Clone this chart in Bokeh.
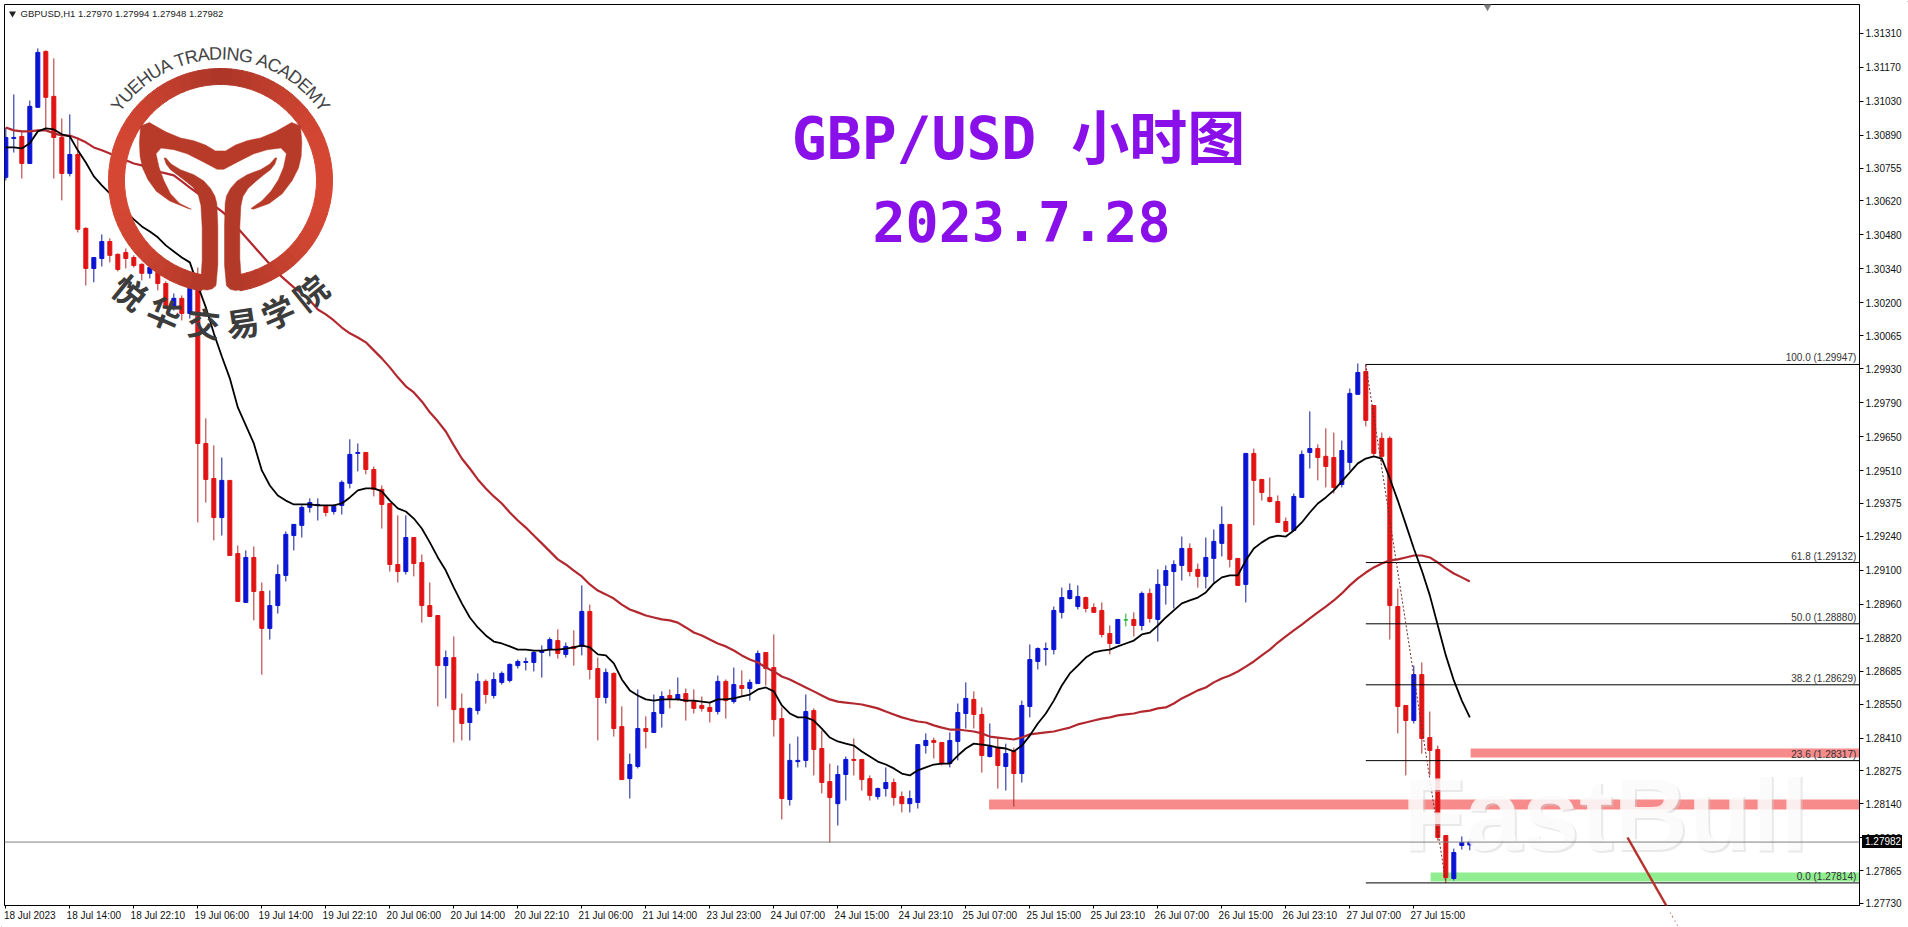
"""GBP/USD hourly chart, 2023.7.28, redrawn with bokeh"""
import numpy as np
from bokeh.core.properties import value
from bokeh.embed import file_html
from bokeh.layouts import column
from bokeh.models import Arrow, Div, FixedTicker, NormalHead, PrintfTickFormatter, Range1d, Span
from bokeh.plotting import figure
from bokeh.resources import INLINE

# candles, in points (1e-5)
opens = [130717,130877,130885,130774,131005,131235,131050,130881,130733,130811,130507,130342,130383,130453,130400,130408,130387,130359,130322,130326,130280,130178,130219,130157,130260,
129622,129478,129317,129470,129169,128968,129153,129013,128861,128955,129079,129243,129285,129359,129367,129363,129342,129367,129458,129581,129585,129515,129433,129375,129124,129095,129235,129132,128955,128914,128708,128741,128532,128474,128523,128643,128585,
128639,128647,128708,128721,128721,128762,128774,128811,128754,128787,128787,128931,128696,128577,128676,128457,128243,128293,128449,128433,128511,128585,128569,128593,128560,128544,128536,128519,128643,128560,128626,128614,128634,128762,128700,128490,128157,128313,128318,128523,128367,128231,128140,128260,128322,128322,128243,128169,128202,128227,128169,128140,128145,
128379,128400,128392,128305,128396,128511,128569,128507,128334,128371,128293,128355,128264,128540,128725,128774,128774,128927,128984,128951,128988,128947,128935,128840,128799,128896,128898,128873,129005,128898,129038,129095,129120,129190,129104,129075,129149,129211,129289,129149,129042,129581,129474,129400,129383,129301,129264,129400,
129585,129601,129569,129564,129453,129544,129824,129918,129778,129643,129643,128951,128544,128482,128671,128412,128363,128009,127832,127968,127970]
highs = [130922,131058,130906,131033,131247,131239,131206,130959,130976,130881,130511,130387,130482,130466,130404,130424,130396,130363,130363,130346,130289,130239,130231,130305,130346,
129725,129614,129564,129470,129202,129182,129198,129050,129017,129124,129260,129289,129367,129396,129396,129367,129371,129470,129639,129622,129585,129527,129449,129375,129326,129326,129235,129165,129050,128914,128770,128828,128593,128536,128676,128651,128680,
128684,128717,128733,128741,128770,128791,128824,128857,128803,128853,129038,128959,128741,128696,128680,128540,128346,128610,128499,128589,128602,128610,128659,128614,128610,128581,128556,128667,128651,128700,128688,128651,128770,128762,128836,128536,128387,128416,128589,128532,128441,128305,128297,128334,128408,128322,128256,128206,128289,128243,128190,128194,128383,
128429,128412,128392,128433,128552,128639,128602,128536,128470,128412,128387,128371,128564,128795,128783,128803,128951,129029,129046,129038,128992,128964,128968,128873,128898,128922,128927,129013,129025,129104,129120,129141,129239,129211,129128,129235,129268,129363,129289,129149,129581,129601,129474,129482,129408,129317,129416,129593,
129754,129618,129684,129667,129634,129848,129951,129947,129778,129667,129651,129025,128544,128708,128721,128519,128379,128009,127955,128005,127994]
lows = [130704,130819,130712,130774,131003,130918,130712,130622,130721,130490,130272,130285,130350,130367,130330,130342,130346,130293,130301,130252,130178,130169,130128,130136,129297,
129379,129223,129243,129161,128972,128968,128894,128671,128815,128922,129054,129182,129235,129338,129305,129322,129330,129330,129437,129507,129495,129404,129272,129095,129050,129083,129075,128885,128910,128540,128573,128392,128400,128400,128507,128552,128573,
128630,128639,128696,128688,128684,128659,128746,128737,128741,128708,128750,128651,128400,128552,128416,128239,128161,128285,128367,128433,128453,128532,128564,128482,128511,128519,128474,128507,128490,128552,128581,128564,128634,128626,128416,128075,128132,128289,128289,128256,128182,127980,128050,128153,128256,128194,128153,128157,128169,128132,128104,128104,128120,
128346,128326,128297,128289,128318,128449,128449,128268,128330,128202,128194,128128,128227,128495,128692,128708,128754,128902,128980,128939,128927,128927,128824,128754,128799,128869,128828,128853,128885,128807,128959,128943,129058,129075,129029,129025,129050,129157,129112,129038,128968,129285,129387,129379,129297,129256,129264,129400,
129519,129470,129441,129416,129441,129511,129824,129692,129573,129544,128815,128429,128256,128470,128346,128256,127988,127814,127824,127951,127948]
closes = [130881,130881,130774,131009,131231,131046,130881,130733,130811,130503,130342,130387,130453,130396,130338,130383,130354,130322,130346,130280,130190,130219,130157,130260,129622,
129474,129317,129470,129161,128972,129153,129013,128861,128955,129083,129248,129289,129359,129379,129371,129338,129363,129462,129577,129585,129515,129433,129371,129124,129095,129235,129128,128955,128910,128708,128741,128527,128470,128532,128643,128589,128651,
128676,128713,128725,128725,128762,128770,128815,128758,128787,128778,128931,128692,128577,128680,128449,128239,128301,128449,128437,128515,128581,128573,128589,128560,128532,128532,128519,128643,128564,128630,128614,128639,128758,128696,128486,128161,128318,128318,128519,128363,128227,128165,128260,128322,128318,128239,128174,128202,128227,128165,128140,128161,128383,
128400,128392,128305,128400,128515,128573,128507,128338,128375,128297,128346,128264,128544,128733,128778,128778,128935,128988,129017,128992,128943,128927,128836,128799,128898,128896,128873,129005,128902,129042,129099,129124,129190,129095,129075,129153,129219,129289,129145,129038,129581,129470,129420,129383,129297,129260,129404,129577,
129601,129564,129527,129441,129593,129828,129914,129717,129581,129569,128955,128540,128482,128671,128408,128359,128001,127836,127939,127980,127982]

# moving averages, one value per bar
ma_fast = [130840,130840,130836,130857,130906,130918,130914,130894,130885,130828,130778,130721,130684,130651,130610,130577,130544,130515,130494,130470,130437,130412,130387,130367,130272,130182,130075,129980,129890,129770,129696,129622,129511,129449,129408,129387,129371,129371,129371,129367,129367,129367,129375,129400,129429,129437,129437,129425,129387,129355,129342,129313,129272,129215,129153,129099,129029,128964,128906,128865,128832,128807,
128799,128787,128774,128774,128770,128770,128774,128774,128778,128783,128791,128783,128754,128750,128717,128651,128606,128585,128569,128564,128569,128569,128569,128564,128564,128560,128556,128569,128569,128573,128581,128589,128610,128618,128602,128544,128511,128495,128495,128482,128449,128412,128396,128387,128379,128355,128334,128313,128301,128285,128264,128256,128277,128289,128301,128305,128305,128338,128367,128387,128383,128379,128371,
128367,128355,128379,128420,128470,128511,128564,128626,128676,128708,128741,128762,128770,128774,128787,128799,128811,128836,128844,128873,128906,128935,128964,128976,128988,129009,129046,129071,129079,129079,129141,129190,129215,129235,129243,129239,129264,129297,
129338,129375,129400,129429,129466,129503,129540,129560,129569,129560,129478,129387,129289,129190,129099,128997,128873,128750,128647,128564,128495]
ma_slow = [130922,130910,130906,130906,130910,130910,130898,130889,130889,130877,130861,130840,130828,130815,130799,130787,130774,130766,130754,130741,130733,130725,130700,130675,130651,130626,130601,130577,130548,130507,130470,130433,130396,130359,130322,130293,130264,130239,130211,130173,130153,130128,130099,130075,130058,130038,130005,129972,129935,129894,129857,129832,129795,129750,129713,129671,129614,129560,129519,129474,129437,129404,
129375,129338,129305,129276,129243,129211,129178,129145,129124,129099,129075,129042,129017,129001,128984,128959,128939,128927,128914,128906,128898,128894,128885,128865,128844,128832,128815,128799,128787,128770,128750,128733,128721,128700,128684,128663,128651,128634,128618,128602,128585,128569,128560,128556,128552,128548,128540,128532,128519,128507,128495,128486,128478,128474,128462,128453,128445,128445,128441,128437,128429,128416,128412,
128408,128404,128412,128425,128429,128433,128437,128445,128453,128466,128474,128482,128490,128495,128503,128507,128511,128519,128523,128532,128536,128552,128573,128589,128606,128618,128639,128655,128667,128684,128704,128725,128750,128774,128803,128828,128853,128877,
128902,128927,128951,128976,129005,129038,129067,129091,129112,129128,129141,129145,129153,129161,129161,129153,129132,129108,129087,129071,129054]

price_ticks = [1.31310,1.31170,1.31030,1.30890,1.30755,1.30620,1.30480,1.30340,1.30200,1.30065,1.29930,1.29790,1.29650,1.29510,1.29375,1.29240,1.29100,1.28960,1.28820,1.28685,1.28550,1.28410,1.28275,1.28140,1.28000,1.27865,1.27730]
time_labels = ["18 Jul 2023","18 Jul 14:00","18 Jul 22:10","19 Jul 06:00","19 Jul 14:00","19 Jul 22:10","20 Jul 06:00","20 Jul 14:00","20 Jul 22:10","21 Jul 06:00","21 Jul 14:00","23 Jul 23:00","24 Jul 07:00","24 Jul 15:00","24 Jul 23:10","25 Jul 07:00","25 Jul 15:00","25 Jul 23:10","26 Jul 07:00","26 Jul 15:00","26 Jul 23:10","27 Jul 07:00","27 Jul 15:00"]

fib_pct = ["100.0","61.8","50.0","38.2","23.6","0.0"]
fib_levels = [1.29947,1.29132,1.28880,1.28629,1.28317,1.27814]
fib_bar = 170
fib_end_bar = 180

current_price = 1.27982
header = "GBPUSD,H1  1.27970 1.27994 1.27948 1.27982"

# support / resistance bands: first bar, top, bottom, colour
zone_first = [122.9, 183.1, 178.1]
zone_top = [1.28157, 1.28367, 1.27857]
zone_bottom = [1.28116, 1.28330, 1.27820]
zone_color = ["#f78b8b", "#f78b8b", "#90ee90"]

XMAX = 231.71
YMIN, YMAX = 1.27721, 1.31428

opens, highs, lows, closes = [np.array(a) / 1e5 for a in (opens, highs, lows, closes)]
bars = np.arange(len(opens))
colors = ["#0a14d2" if c > o else "#e01414" if c < o else "#18b030" for o, c in zip(opens, closes)]
wick_colors = ["#101c9a" if c > o else "#b02a2a" if c < o else "#18b030" for o, c in zip(opens, closes)]

p = figure(width=1908, height=927, output_backend="svg", toolbar_location=None,
           x_range=Range1d(-0.166, XMAX), y_range=Range1d(YMIN, YMAX),
           y_axis_location="right", min_border_left=4, min_border_top=4,
           min_border_right=49, min_border_bottom=22)
p.grid.visible = False
p.outline_line_color = "black"
p.outline_line_width = 1

# second pair of ranges in pixels, for the logo and other decoration
p.extra_x_ranges = {"px": Range1d(4, 1859)}
p.extra_y_ranges = {"px": Range1d(905, 4)}

# axes
p.yaxis.ticker = FixedTicker(ticks=price_ticks)
p.yaxis.formatter = PrintfTickFormatter(format="%.5f")
p.yaxis.major_label_text_font = "Liberation Sans"
p.yaxis.major_label_text_font_size = "10px"
p.yaxis.major_label_text_color = "#111111"
p.yaxis.major_tick_in = 0
p.yaxis.major_tick_out = 4
p.yaxis.major_label_standoff = 2
p.yaxis.minor_tick_line_color = None

# the labels start at the tick, so the major ticks carry the text 3 bars on
# and the visible marks are the minor ones
time_marks = [8 * k for k in range(len(time_labels))]
time_ticks = [m + 3 for m in time_marks]
p.xaxis.ticker = FixedTicker(ticks=time_ticks, minor_ticks=time_marks)
p.xaxis.major_label_overrides = dict(zip(time_ticks, time_labels))
p.xaxis.major_label_text_font = "Liberation Sans"
p.xaxis.major_label_text_font_size = "10px"
p.xaxis.major_label_text_color = "#111111"
p.xaxis.major_tick_line_color = None
p.xaxis.major_tick_in = 0
p.xaxis.major_tick_out = 3
p.xaxis.major_label_standoff = 1
p.xaxis.minor_tick_in = 0
p.xaxis.minor_tick_out = 3

# zones and current price
p.quad(left=zone_first, right=[XMAX] * 3, top=zone_top, bottom=zone_bottom,
       fill_color=zone_color, line_color=None)
p.add_layout(Span(location=current_price, dimension="width", line_color="#808080", line_width=1))

# candles
p.segment(bars, lows, bars, highs, line_color=wick_colors, line_width=1)
p.vbar(bars, 0.5, opens, closes, fill_color=colors, line_color=colors, line_width=1)

# moving averages
p.line(bars, np.array(ma_slow) / 1e5, line_color="#b3282f", line_width=2.2)
p.line(bars, np.array(ma_fast) / 1e5, line_color="black", line_width=1.8)

# fibonacci levels
p.segment([fib_bar] * 6, fib_levels, [XMAX] * 6, fib_levels, line_color="black", line_width=1)
p.segment([fib_bar], [highs[fib_bar]], [fib_end_bar], [lows[fib_end_bar]],
          line_color="#6b2b2b", line_width=1, line_dash="2 2")
p.text([XMAX - 0.4] * 6, fib_levels,
       text=[f"{a} ({b:.5f})" for a, b in zip(fib_pct, fib_levels)],
       text_font=value("Liberation Sans"), text_font_size="10px", text_color="#333333",
       text_align="right", text_baseline="bottom", y_offset=-1)


# logo, in pixels
def smooth(points, rounds=1):
    pts = np.array(points, dtype=float)
    for _ in range(rounds):
        q = np.roll(pts, -1, axis=0)
        pts = np.column_stack([0.75 * pts + 0.25 * q, 0.25 * pts + 0.75 * q]).reshape(-1, 2)
    return pts / 3


def px_patch(points, color):
    pts = smooth(points)
    p.patch(pts[:, 0], pts[:, 1], fill_color=color, line_color=color, line_width=0.5,
            x_range_name="px", y_range_name="px")


cx, cy = 220, 180
ring_x, ring_y, ring_c = [], [], []
steps = 60
gap = np.radians(10)
for k in range(steps):
    a0 = gap + (2 * np.pi - 2 * gap) * k / steps
    a1 = gap + (2 * np.pi - 2 * gap) * (k + 1.05) / steps
    arc = np.linspace(a0, a1, 4)
    xs = np.concatenate([cx + 112 * np.sin(arc), cx + 96 * np.sin(arc[::-1])])
    ys = np.concatenate([cy + 112 * np.cos(arc), cy + 96 * np.cos(arc[::-1])])
    ring_x.append(list(xs))
    ring_y.append(list(ys))
    t = abs(np.sin((a0 + a1) / 2))
    ring_c.append("#%02x%02x%02x" % (int(172 + 42 * t), int(54 + 18 * t), int(40 + 12 * t)))
p.patches(ring_x, ring_y, fill_color=ring_c, line_color=ring_c, x_range_name="px", y_range_name="px")

px_patch([(422, 352), (520, 408), (600, 425), (660, 460), (720, 425), (800, 408), (898, 352), (906, 450),
          (890, 520), (830, 600), (735, 635), (800, 590), (845, 520), (862, 440), (780, 450), (700, 490),
          (660, 512), (620, 490), (540, 450), (462, 440), (480, 520), (520, 600), (590, 635), (480, 590),
          (430, 520), (415, 450)], "#b83a28")
px_patch([(488, 463), (520, 500), (600, 530), (640, 575), (652, 620), (652, 850), (630, 870), (590, 865),
          (605, 830), (605, 630), (590, 570), (540, 530), (500, 500)], "#b33a28")
px_patch([(832, 463), (800, 500), (720, 530), (680, 575), (672, 620), (672, 850), (695, 872), (735, 865),
          (718, 822), (718, 630), (730, 575), (780, 530), (820, 500)], "#b33a28")

# academy name on the arc
academy = "YUEHUA TRADING ACADEMY"
glyph_w = {"A": .667, "C": .722, "D": .722, "E": .667, "G": .778, "H": .722, "I": .278, "M": .833,
           "N": .722, "R": .722, "T": .611, "U": .722, "Y": .667, " ": .278}
w = np.array([glyph_w[c] for c in academy])
mid = np.cumsum(w) - w / 2
theta = np.radians(-56 + 112 * mid / w.sum())
p.text(cx + 127 * np.sin(theta), cy - 127 * np.cos(theta), text=list(academy), angle=-theta,
       text_font=value("Liberation Sans"), text_font_size="18px", text_color="#444444",
       text_align="center", text_baseline="middle", x_range_name="px", y_range_name="px")

academy_cn = list("悦华交易学院")
theta_cn = np.radians([38.9, 22.9, 6.7, -8.8, -23.6, -38.9])
p.text(cx - 143 * np.sin(theta_cn), cy + 143 * np.cos(theta_cn), text=academy_cn, angle=-theta_cn,
       text_font=value("Noto Sans CJK SC"), text_font_style="bold", text_font_size="33px",
       text_color="#3c3c3c", text_align="center", text_baseline="middle",
       x_range_name="px", y_range_name="px")

# titles
title_font = value("'DejaVu Sans Mono','Noto Sans CJK SC'")
p.text([1018], [138], text=["GBP/USD 小时图"], text_font=title_font, text_font_style="bold",
       text_font_size="58px", text_color="#8a10ea", text_align="center", text_baseline="middle",
       x_range_name="px", y_range_name="px")
p.text([1021], [220], text=["2023.7.28"], text_font=title_font, text_font_style="bold",
       text_font_size="55px", text_color="#8a10ea", text_align="center", text_baseline="middle",
       x_range_name="px", y_range_name="px")

# watermark (a font size of exactly 100px breaks the svg font parser)
p.text([1403], [816], text=["FastBull"], text_font=value("Liberation Sans"), text_font_style="bold",
       text_font_size="103px", text_color="#cfcfcf", text_alpha=0.45, text_baseline="middle",
       x_range_name="px", y_range_name="px")
p.text([1401], [814], text=["FastBull"], text_font=value("Liberation Sans"), text_font_style="bold",
       text_font_size="103px", text_color="white", text_alpha=0.8, text_baseline="middle",
       x_range_name="px", y_range_name="px")

# header line and the little markers
p.scatter([12], [13], marker="inverted_triangle", size=7, fill_color="#222222", line_color=None,
          x_range_name="px", y_range_name="px")
p.text([20], [13], text=[header], text_font=value("Liberation Sans"), text_font_size="9.5px",
       text_color="#222222", text_baseline="middle", x_range_name="px", y_range_name="px")
p.scatter([1487], [5], marker="inverted_triangle", size=10, fill_color="#808080", line_color=None,
          x_range_name="px", y_range_name="px")


# an arrow with a head is the one thing that draws outside the frame here, so
# tiny heads let these paint the forecast arrow head and the window edge
def px_line(x0, y0, x1, y1, color, width):
    p.add_layout(Arrow(end=NormalHead(size=1, fill_color=color, line_color=color),
                       x_start=x0, y_start=y0, x_end=x1, y_end=y1, line_color=color,
                       line_width=width, x_range_name="px", y_range_name="px"))


px_line(1627, 837, 1672, 916, "#b5322c", 2.5)
for t0, t1, head_w in [(0.0, 0.25, 13), (0.25, 0.5, 10), (0.5, 0.75, 6.5), (0.75, 1.0, 3)]:
    px_line(1668 + 9 * t0, 909 + 16 * t0, 1668 + 9 * t1, 909 + 16 * t1, "#b5322c", head_w)

px_line(0, 1, 1908, 1, "#909090", 2)
px_line(1, 0, 1, 927, "#909090", 2)

# price tag on the axis, in html because annotations stop at the frame
tag = Div(text=f"{current_price:.5f}", width=40, height=13, margin=0,
          styles={"position": "absolute", "left": "1862px", "top": "835px", "background": "black",
                  "color": "white", "font": "10px/13px 'Liberation Sans'", "padding-left": "3px",
                  "box-sizing": "border-box", "z-index": "5"})

open("out.html", "w").write(file_html(column(p, tag), INLINE))
